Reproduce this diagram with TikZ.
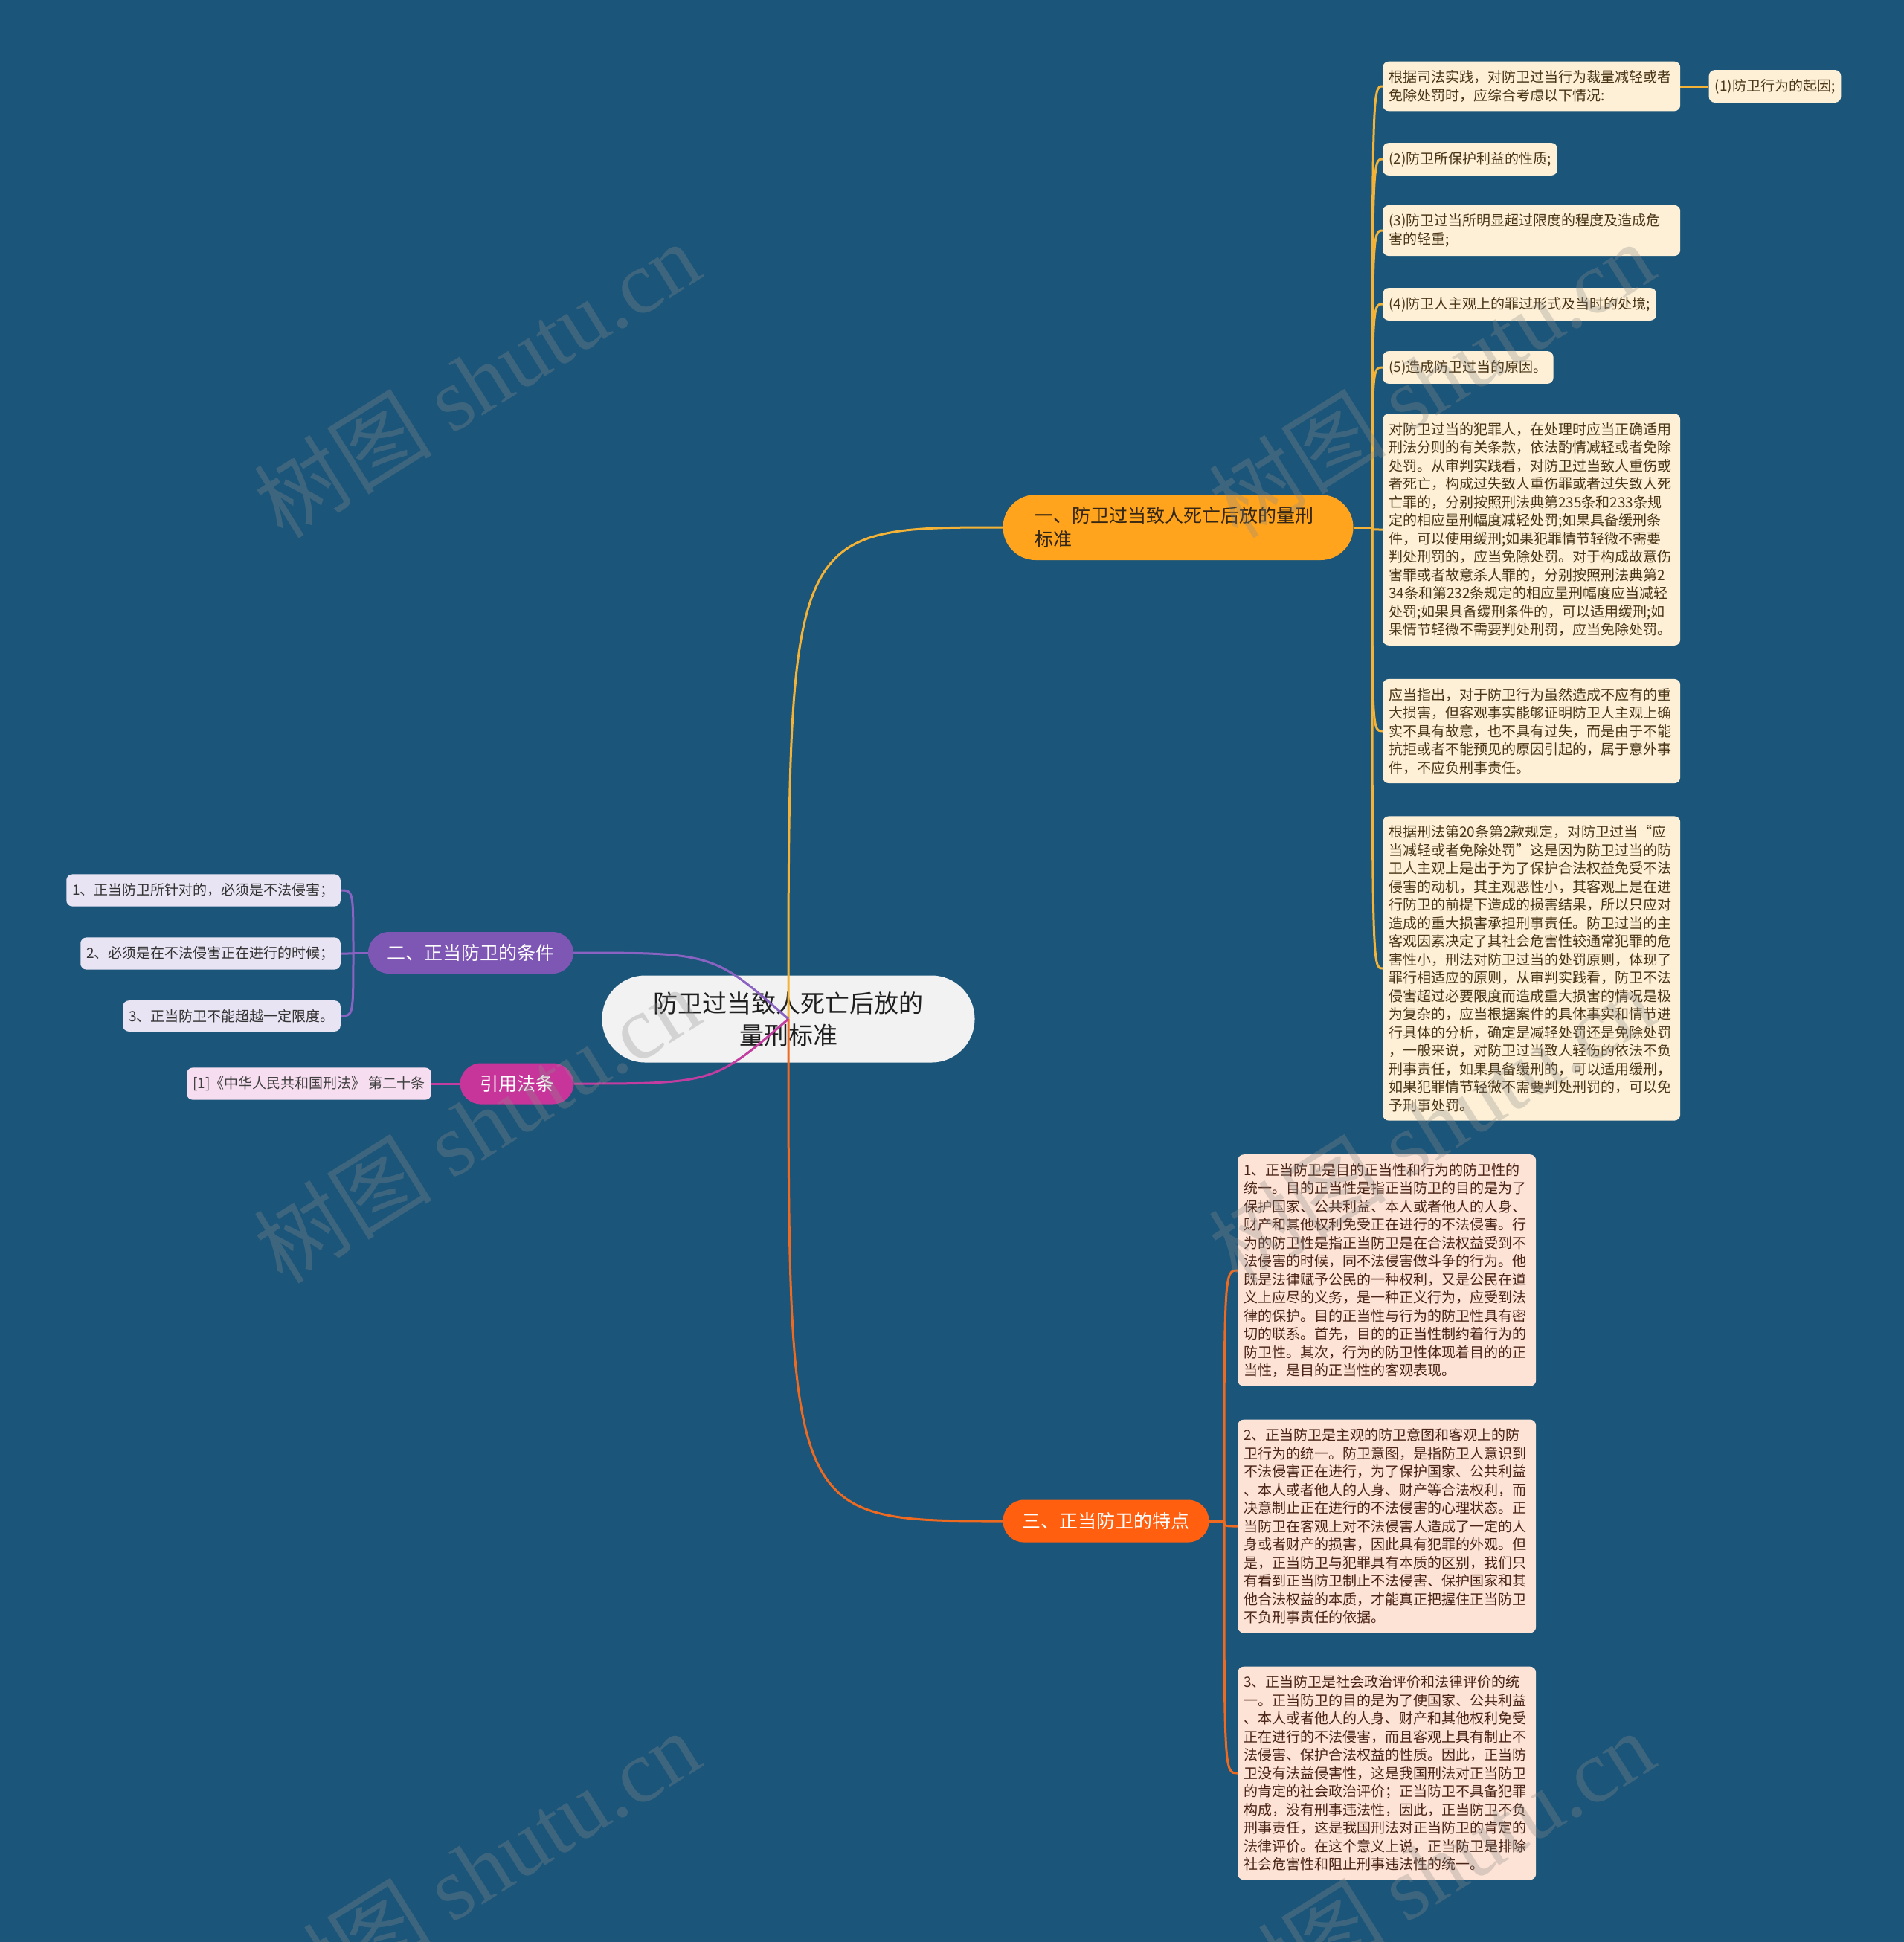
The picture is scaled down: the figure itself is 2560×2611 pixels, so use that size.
\documentclass[tikz,border=0pt]{standalone}
\usepackage{fontspec}
\setmainfont{Noto Sans CJK SC}
\newfontfamily\markfont{Liberation Serif}
\usetikzlibrary{positioning}
\usetikzlibrary{calc}
\definecolor{board}{RGB}{27,85,121}
\definecolor{rootfill}{HTML}{F2F2F2}
\definecolor{amberfill}{HTML}{FFA41C}
\definecolor{amberink}{HTML}{332614}
\definecolor{violetfill}{HTML}{7E57B4}
\definecolor{rosefill}{HTML}{C7359A}
\definecolor{emberfill}{HTML}{FF5F0F}
\definecolor{creamleaf}{HTML}{FEF0D6}
\definecolor{creamink}{HTML}{4A3516}
\definecolor{lilacleaf}{HTML}{E9E4F3}
\definecolor{pinkleaf}{HTML}{F6DDF0}
\definecolor{peachleaf}{HTML}{FDE3D5}
\definecolor{peachink}{HTML}{4A2416}
\definecolor{goldlink}{HTML}{F4B336}
\definecolor{violetlink}{HTML}{8A63C2}
\definecolor{roselink}{HTML}{C33DA0}
\definecolor{emberlink}{HTML}{EE6A20}
\definecolor{markgrey}{RGB}{140,140,140}
\tikzset{
    % The pale topic in the middle of the board
    root topic/.style={
        fill=rootfill, text=black!88, rounded corners=58pt,
        minimum width=501pt, minimum height=117pt, align=center,
        font=\fontsize{33pt}{43pt}\selectfont},
%
    % Coloured pill for each branch off the root
    branch topic/.style={
        rounded corners=28pt, minimum height=56pt, inner xsep=0pt,
        text=white, font=\fontsize{25pt}{32pt}\selectfont},
%
    % Rounded boxes holding the detail text
    leaf/.style={
        rounded corners=8pt, inner xsep=8pt, inner ysep=12pt, align=left,
        font=\fontsize{19pt}{24.5pt}\selectfont},
    amber leaf/.style={leaf, fill=creamleaf, text=creamink},
    lilac leaf/.style={leaf, fill=lilacleaf, text=black!80},
    pink leaf/.style={leaf, fill=pinkleaf, text=black!75},
    peach leaf/.style={leaf, fill=peachleaf, text=peachink},
%
    % Curved links, one colour per branch
    link/.style={line width=3pt},
    gold link/.style={link, draw=goldlink},
    violet link/.style={link, draw=violetlink},
    rose link/.style={link, draw=roselink},
    ember link/.style={link, draw=emberlink},
%
    % Faint site mark laid over everything
    watermark/.style={
        text=markgrey, text opacity=0.3, rotate=32,
        font=\fontsize{120pt}{120pt}\selectfont}}
\pgfdeclarelayer{background}
\pgfdeclarelayer{links}
\pgfdeclarelayer{foreground}
\pgfsetlayers{background,links,main,foreground}
\begin{document}
\begin{tikzpicture}[x=1pt, y=-1pt]

% Board and centre topic

\useasboundingbox (0,0) rectangle (2560,2611);
\begin{pgfonlayer}{background}
\fill [board] (0,0) rectangle (2560,2611);
\node [root topic] (root) at (1060,1370)
    {防卫过当致人死亡后放的\\量刑标准};
\end{pgfonlayer}

% Branches

\node [branch topic, fill=amberfill, text=amberink, minimum height=88pt,
    rounded corners=44pt, inner xsep=43pt, text width=385pt, align=left]
    (b1) at (1584,709) {一、防卫过当致人死亡后放的量刑\\标准};
\node [branch topic, fill=violetfill, minimum width=276pt]
    (b2) at (633,1281) {二、正当防卫的条件};
\node [branch topic, fill=rosefill, minimum width=153pt, minimum height=55pt]
    (law) at (695,1457) {引用法条};
\node [branch topic, fill=emberfill, minimum width=277pt, minimum height=57pt]
    (b3) at (1487,2045) {三、正当防卫的特点};

% Sentencing details

\node [amber leaf, text width=384pt, anchor=west] (l1a) at (1859,116)
    {根据司法实践，对防卫过当行为裁量减轻或者\\免除处罚时，应综合考虑以下情况:};
\node [amber leaf, right=38pt of l1a] (l1) {(1)防卫行为的起因;};
\node [amber leaf, anchor=west] (l2) at (1859,214) {(2)防卫所保护利益的性质;};
\node [amber leaf, text width=384pt, anchor=west] (l3) at (1859,310)
    {(3)防卫过当所明显超过限度的程度及造成危\\害的轻重;};
\node [amber leaf, anchor=west] (l4) at (1859,409) {(4)防卫人主观上的罪过形式及当时的处境;};
\node [amber leaf, anchor=west] (l5) at (1859,494) {(5)造成防卫过当的原因。};
\node [amber leaf, text width=384pt, anchor=west] (l6) at (1859,712)
    {对防卫过当的犯罪人，在处理时应当正确适用\\
    刑法分则的有关条款，依法酌情减轻或者免除\\
    处罚。从审判实践看，对防卫过当致人重伤或\\
    者死亡，构成过失致人重伤罪或者过失致人死\\
    亡罪的，分别按照刑法典第235条和233条规\\
    定的相应量刑幅度减轻处罚;如果具备缓刑条\\
    件，可以使用缓刑;如果犯罪情节轻微不需要\\
    判处刑罚的，应当免除处罚。对于构成故意伤\\
    害罪或者故意杀人罪的，分别按照刑法典第2\\
    34条和第232条规定的相应量刑幅度应当减轻\\
    处罚;如果具备缓刑条件的，可以适用缓刑;如\\
    果情节轻微不需要判处刑罚，应当免除处罚。};
\node [amber leaf, text width=384pt, anchor=west] (l7) at (1859,983)
    {应当指出，对于防卫行为虽然造成不应有的重\\
    大损害，但客观事实能够证明防卫人主观上确\\
    实不具有故意，也不具有过失，而是由于不能\\
    抗拒或者不能预见的原因引起的，属于意外事\\
    件，不应负刑事责任。};
\node [amber leaf, text width=384pt, anchor=west] (l8) at (1859,1302)
    {根据刑法第20条第2款规定，对防卫过当“应\\
    当减轻或者免除处罚”这是因为防卫过当的防\\
    卫人主观上是出于为了保护合法权益免受不法\\
    侵害的动机，其主观恶性小，其客观上是在进\\
    行防卫的前提下造成的损害结果，所以只应对\\
    造成的重大损害承担刑事责任。防卫过当的主\\
    客观因素决定了其社会危害性较通常犯罪的危\\
    害性小，刑法对防卫过当的处罚原则，体现了\\
    罪行相适应的原则，从审判实践看，防卫不法\\
    侵害超过必要限度而造成重大损害的情况是极\\
    为复杂的，应当根据案件的具体事实和情节进\\
    行具体的分析，确定是减轻处罚还是免除处罚\\
    ，一般来说，对防卫过当致人轻伤的依法不负\\
    刑事责任，如果具备缓刑的，可以适用缓刑，\\
    如果犯罪情节轻微不需要判处刑罚的，可以免\\
    予刑事处罚。};

% Conditions and cited law

\node [lilac leaf, anchor=east] (c1) at (458,1197) {1、正当防卫所针对的，必须是不法侵害；};
\node [lilac leaf, anchor=east] (c2) at (458,1282) {2、必须是在不法侵害正在进行的时候；};
\node [lilac leaf, anchor=east] (c3) at (458,1366) {3、正当防卫不能超越一定限度。};
\node [pink leaf, anchor=east] (article) at (580,1457) {[1]《中华人民共和国刑法》 第二十条};

% Features of lawful defence

\node [peach leaf, text width=385pt, anchor=west] (t1) at (1664,1708)
    {1、正当防卫是目的正当性和行为的防卫性的\\
    统一。目的正当性是指正当防卫的目的是为了\\
    保护国家、公共利益、本人或者他人的人身、\\
    财产和其他权利免受正在进行的不法侵害。行\\
    为的防卫性是指正当防卫是在合法权益受到不\\
    法侵害的时候，同不法侵害做斗争的行为。他\\
    既是法律赋予公民的一种权利，又是公民在道\\
    义上应尽的义务，是一种正义行为，应受到法\\
    律的保护。目的正当性与行为的防卫性具有密\\
    切的联系。首先，目的的正当性制约着行为的\\
    防卫性。其次，行为的防卫性体现着目的的正\\
    当性，是目的正当性的客观表现。};
\node [peach leaf, text width=385pt, anchor=west] (t2) at (1664,2052)
    {2、正当防卫是主观的防卫意图和客观上的防\\
    卫行为的统一。防卫意图，是指防卫人意识到\\
    不法侵害正在进行，为了保护国家、公共利益\\
    、本人或者他人的人身、财产等合法权利，而\\
    决意制止正在进行的不法侵害的心理状态。正\\
    当防卫在客观上对不法侵害人造成了一定的人\\
    身或者财产的损害，因此具有犯罪的外观。但\\
    是，正当防卫与犯罪具有本质的区别，我们只\\
    有看到正当防卫制止不法侵害、保护国家和其\\
    他合法权益的本质，才能真正把握住正当防卫\\
    不负刑事责任的依据。};
\node [peach leaf, text width=385pt, anchor=west] (t3) at (1664,2384)
    {3、正当防卫是社会政治评价和法律评价的统\\
    一。正当防卫的目的是为了使国家、公共利益\\
    、本人或者他人的人身、财产和其他权利免受\\
    正在进行的不法侵害，而且客观上具有制止不\\
    法侵害、保护合法权益的性质。因此，正当防\\
    卫没有法益侵害性，这是我国刑法对正当防卫\\
    的肯定的社会政治评价；正当防卫不具备犯罪\\
    构成，没有刑事违法性，因此，正当防卫不负\\
    刑事责任，这是我国刑法对正当防卫的肯定的\\
    法律评价。在这个意义上说，正当防卫是排除\\
    社会危害性和阻止刑事违法性的统一。};

\coordinate (hub1) at (1845,709);
\coordinate (hub2) at (475,1281);
\coordinate (hub3) at (1646,2045);

% Links, drawn over the centre topic

\begin{pgfonlayer}{links}
\draw [gold link] (root.center) .. controls (root.center |- b1.west) .. (b1.west);
\draw [ember link] (root.center) .. controls (root.center |- b3.west) .. (b3.west);
\draw [violet link] (root.center) .. controls ($(b2.east)+(188,0)$) .. (b2.east);
\draw [rose link] (root.center) .. controls ($(law.east)+(188,0)$) .. (law.east);

\draw [gold link] (b1.east) -- (hub1);
\foreach \twig in {l1a,l2,l3,l4,l5,l6,l7,l8}
    \draw [gold link] (hub1) .. controls (hub1 |- \twig.west) .. (\twig.west);
\draw [gold link] (l1a.east) -- (l1.west);

\draw [violet link] (b2.west) -- (hub2);
\foreach \twig in {c1,c2,c3}
    \draw [violet link] (hub2) .. controls (hub2 |- \twig.east) .. (\twig.east);
\draw [rose link] (law.west) -- (article.east);

\draw [ember link] (b3.east) -- (hub3);
\foreach \twig in {t1,t2,t3}
    \draw [ember link] (hub3) .. controls (hub3 |- \twig.west) .. (\twig.west);
\end{pgfonlayer}

% Site marks

\begin{pgfonlayer}{foreground}
\foreach \mx/\my [count=\n] in {641/510,1924/510,641/1512,1924/1512,641/2512,1924/2512}
    \node [watermark] (mark\n) at (\mx,\my) {树图 {\markfont shutu.cn}};
\end{pgfonlayer}

\end{tikzpicture}
\end{document}
